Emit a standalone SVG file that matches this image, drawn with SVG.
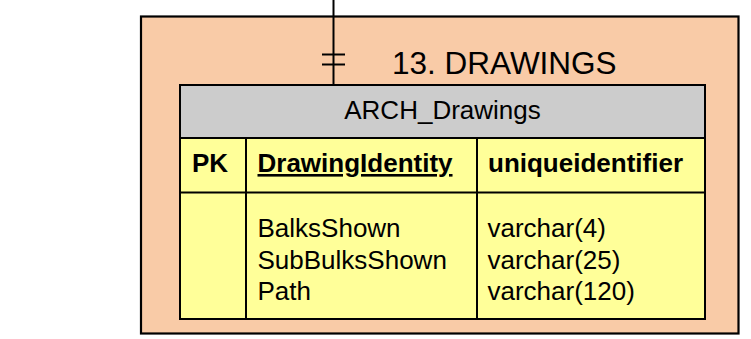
<svg xmlns="http://www.w3.org/2000/svg" width="751" height="339" viewBox="0 0 751 339">
<style>
text{font-family:"Liberation Sans",Arial,sans-serif;fill:#000;}
.t{font-size:26px;}
.b{font-size:26px;font-weight:bold;}
.ln{stroke:#000;stroke-width:2;fill:none;}
</style>
<rect width="751" height="339" fill="#fff"/>
<g id="drawings-group">
<rect x="141" y="16.5" width="597.5" height="317" fill="#F9CBA7" stroke="#000" stroke-width="2.2"/>
<text x="392" y="73.5" style="font-size:31.5px">13. DRAWINGS</text>
</g>
<g id="arch-drawings">
<rect x="180" y="85" width="525" height="53" fill="#CCCCCC" stroke="#000" stroke-width="2"/>
<rect x="180" y="138" width="525" height="181" fill="#FFFF99" stroke="#000" stroke-width="2"/>
<line class="ln" x1="180" y1="192.5" x2="705" y2="192.5"/>
<line class="ln" x1="246" y1="138" x2="246" y2="319"/>
<line class="ln" x1="477" y1="138" x2="477" y2="319"/>
<text class="t" x="442.5" y="119" text-anchor="middle">ARCH_Drawings</text>
<text class="b" x="192" y="172">PK</text>
<text class="b" x="257.5" y="172" text-decoration="underline">DrawingIdentity</text>
<text class="b" x="488" y="172">uniqueidentifier</text>
<text class="t" x="257.5" y="237">BalksShown</text>
<text class="t" x="257.5" y="268.5">SubBulksShown</text>
<text class="t" x="257.5" y="300">Path</text>
<text class="t" x="487.5" y="237">varchar(4)</text>
<text class="t" x="487.5" y="268.5">varchar(25)</text>
<text class="t" x="487.5" y="300">varchar(120)</text>
</g>
<g id="connectors">
<line class="ln" x1="333.5" y1="0" x2="333.5" y2="85"/>
<line class="ln" x1="322" y1="54.5" x2="345" y2="54.5"/>
<line class="ln" x1="322" y1="64.5" x2="345" y2="64.5"/>
</g>
</svg>
